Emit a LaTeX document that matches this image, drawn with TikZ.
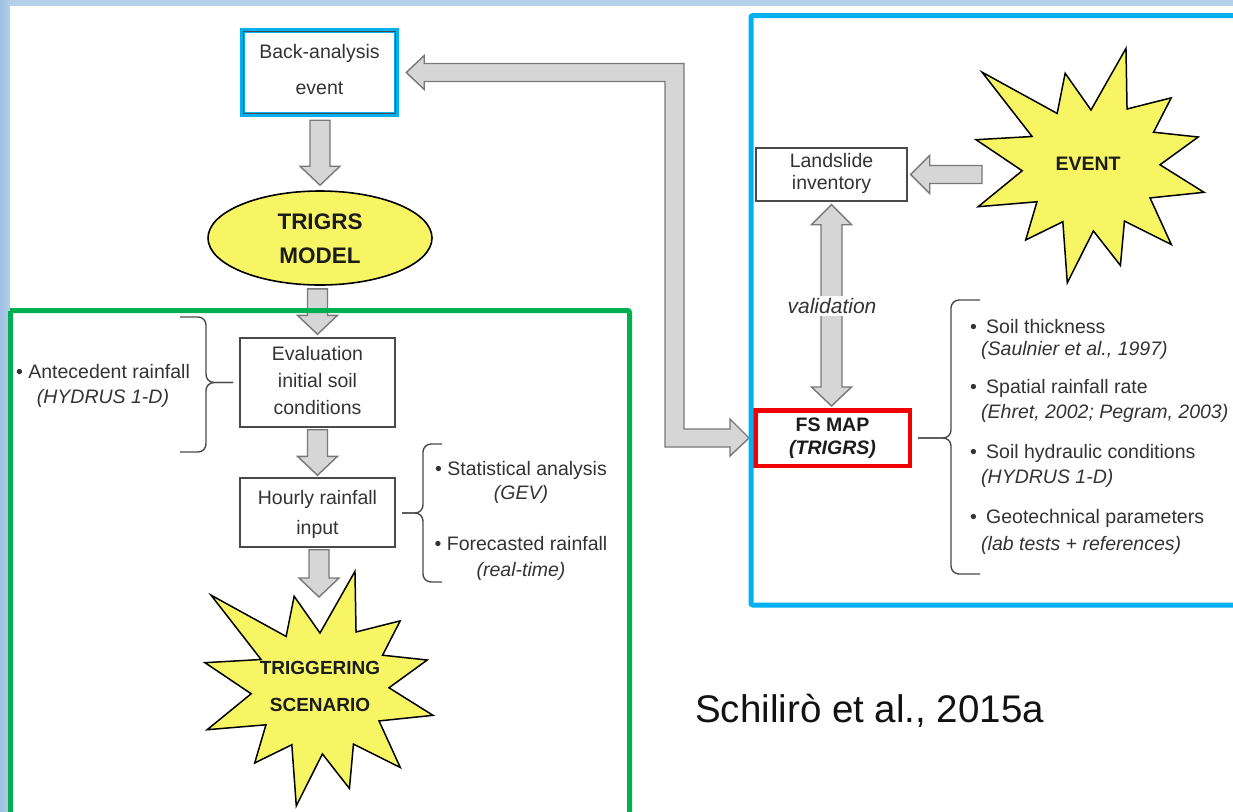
\documentclass[tikz,border=0pt]{standalone}
\usepackage{fontspec}
\setmainfont{Liberation Sans}
\usetikzlibrary{shapes.geometric,calc}
\definecolor{cblue}{HTML}{00B0F0}
\definecolor{cgreen}{HTML}{00B050}
\definecolor{cred}{HTML}{F00000}
\definecolor{cyellow}{RGB}{248,245,100}
\definecolor{arrf}{HTML}{D6D6D6}
\definecolor{arrc}{HTML}{787878}
\definecolor{boxc}{HTML}{4A4A4A}
\definecolor{txtc}{HTML}{333333}
\definecolor{bldc}{HTML}{1C1C1C}
\definecolor{bgtop}{HTML}{B5D0EB}
\definecolor{bgleft}{HTML}{9FBFE4}
\newcommand{\vdownarrow}[2]{%
 \draw[blk] let \p1=(#1), \p2=(#2) in
 (\x2-10pt,\y1) -- (\x2+10pt,\y1) -- (\x2+10pt,\y2+19pt) -- (\x2+20pt,\y2+19pt) -- (\x2,\y2)
 -- (\x2-20pt,\y2+19pt) -- (\x2-10pt,\y2+19pt) -- cycle;}
\newcommand{\hleftarrow}[2]{%
 \draw[blk] let \p1=(#1), \p2=(#2) in
 (\x1,\y2+9pt) -- (\x2+19pt,\y2+9pt) -- (\x2+19pt,\y2+19pt) -- (\x2,\y2)
 -- (\x2+19pt,\y2-19pt) -- (\x2+19pt,\y2-9pt) -- (\x1,\y2-9pt) -- cycle;}
\newcommand{\burstshape}[1]{%
 \filldraw[burst] ($(#1)+(167:117pt)$)
 \foreach \ang/\rad in {153/65,139/143,122/62,105/96,89/56,73/123,57/68,40/106,28/72,15/112,1/70,-13/117,-28/68,-44/113,-58/65,-73/104,-87/65,-101/119,-116/62,-131/98,-146/64,-160/119,-176/68}
 { -- ($(#1)+(\ang:\rad pt)$) } -- cycle;}
\tikzset{
 txt/.style={text=txtc, inner sep=0pt, align=center, font=\fontsize{19.5}{24}\selectfont},
 bld/.style={text=bldc, inner sep=0pt, align=center},
 box/.style={draw=boxc, line width=1.4pt, fill=white, inner sep=0pt},
 blk/.style={draw=arrc, fill=arrf, line width=1.4pt, line join=miter},
 burst/.style={draw=black, fill=cyellow, line width=1.5pt, line join=miter},
 brc/.style={draw=boxc, line width=1.4pt, rounded corners=8pt},
 frame/.style={line width=5pt, rounded corners=2pt},
 item/.style={txt, anchor=west, align=left},
}
\newcommand{\bul}{\makebox[16pt][l]{\textbullet}}
\begin{document}
\begin{tikzpicture}[x=1pt,y=-1pt]
\useasboundingbox (0,0) rectangle (1233,811);
% background
\fill[bgtop] (0,0) rectangle (1233,811);
\shade[left color=bgleft, right color=bgtop] (0,0) rectangle (10,811);
\fill[white] (10,6) rectangle (1233,811);

% ---------- left column ----------
\node[box, draw=cblue, line width=5.5pt, minimum width=154pt, minimum height=84pt] (back) at (319.5,72.5) {};
\draw[boxc, line width=1pt] ($(back.south west)+(3.3,-3.3)$) rectangle ($(back.north east)+(-3.3,3.3)$);
\node[txt, font=\fontsize{19.5}{36}\selectfont] (backtxt) at (319.5,70) {Back-analysis\\event};

\node[ellipse, draw=black, fill=cyellow, line width=1.6pt, minimum width=224pt, minimum height=94pt, inner sep=0pt] (trigrs) at (320,238) {};
\node[bld, font=\bfseries\fontsize{22.5}{34}\selectfont] (trigrstxt) at (320,239) {TRIGRS\\MODEL};

\node[box, minimum width=155pt, minimum height=89pt] (eval) at (317.5,382.5) {};
\node[txt, font=\fontsize{19.5}{27}\selectfont] (evaltxt) at (317.5,381) {Evaluation\\initial soil\\conditions};

\node[box, minimum width=155pt, minimum height=69pt] (hourly) at (317.5,512.5) {};
\node[txt, font=\fontsize{19.5}{30}\selectfont] (hourlytxt) at (317.5,514) {Hourly rainfall\\input};

\coordinate (trigc) at (319,689);
\burstshape{trigc}
\node[bld, font=\bfseries\fontsize{19}{37}\selectfont] (trig) at (320,686.5) {TRIGGERING\\SCENARIO};

\vdownarrow{$(back.south)+(0,3)$}{$(trigrs.north)+(0,-5)$}
\vdownarrow{$(trigrs.south)+(0,3)$}{$(eval.north)+(0,-3)$}
\vdownarrow{$(eval.south)+(0,2)$}{$(hourly.north)+(0,-2)$}
\vdownarrow{$(hourly.south)+(0,2)$}{$(trigc)+(0,-92)$}

% braces left
\draw[brc] (180,317) -- (206,317) -- (206,382.5) -- (233,382.5);
\draw[brc] (180,452) -- (206,452) -- (206,382.5) -- (233,382.5);
\node[txt, font=\fontsize{19.5}{25}\selectfont] (ante) at (103,385.5) {\textbullet{} Antecedent rainfall\\\textit{(HYDRUS 1-D)}};

\draw[brc] (442,444) -- (423,444) -- (423,513) -- (402,513);
\draw[brc] (442,582) -- (423,582) -- (423,513) -- (402,513);
\node[txt, font=\fontsize{19.5}{24}\selectfont] (stat) at (521,482) {\textbullet{} Statistical analysis\\\textit{(GEV)}};
\node[txt, font=\fontsize{19.5}{26}\selectfont] (fore) at (521,558) {\textbullet{} Forecasted rainfall\\\textit{(real-time)}};

% ---------- right panel ----------
\node[box, minimum width=151pt, minimum height=53pt] (land) at (831.5,174.5) {};
\node[txt, font=\fontsize{19.5}{22}\selectfont] (landtxt) at (831.5,173.5) {Landslide\\inventory};

\coordinate (evc) at (1090,166);
\burstshape{evc}
\node[bld, font=\bfseries\fontsize{19.5}{24}\selectfont] (event) at (1088,164) {EVENT};
\coordinate (evleft) at (982,174.5);
\hleftarrow{evleft}{$(land.east)+(3,0)$}

\node[box, draw=cred, line width=4.5pt, minimum width=154.5pt, minimum height=55.5pt] (fsmap) at (832.5,438) {};
\node[bld, font=\bfseries\fontsize{19.5}{23}\selectfont] (fstxt) at (832.5,438) {FS MAP\\\textit{(TRIGRS)}};

\draw[blk] let \p1=($(land.south)+(0,3)$), \p2=($(fsmap.north)+(0,-2)$) in
 (\x1,\y1) -- (\x1+20pt,\y1-20pt) -- (\x1+10.5pt,\y1-20pt) -- (\x1+10.5pt,\y2+19pt) -- (\x1+20pt,\y2+19pt) -- (\x1,\y2)
 -- (\x1-20pt,\y2+19pt) -- (\x1-10.5pt,\y2+19pt) -- (\x1-10.5pt,\y1-20pt) -- (\x1-20pt,\y1-20pt) -- cycle;
\node[txt, fill=white, inner sep=2pt, font=\itshape\fontsize{21}{24}\selectfont] (valid) at (832,306) {validation};

\draw[brc] (980,300) -- (951,300) -- (951,438) -- (918,438);
\draw[brc] (980,574) -- (951,574) -- (951,438) -- (918,438);
\node[item] (s1) at (970,327) {\bul Soil thickness};
\node[item] (s1b) at (981,350) {\textit{(Saulnier et al., 1997)}};
\node[item] (s2) at (970,388) {\bul Spatial rainfall rate};
\node[item] (s2b) at (981,413) {\textit{(Ehret, 2002; Pegram, 2003)}};
\node[item] (s3) at (970,453) {\bul Soil hydraulic conditions};
\node[item] (s3b) at (981,478) {\textit{(HYDRUS 1-D)}};
\node[item] (s4) at (970,518) {\bul Geotechnical parameters};
\node[item] (s4b) at (981,545) {\textit{(lab tests + references)}};

% big L-shaped double arrow
\coordinate (turn) at (674.5,0);
\draw[blk] let \p1=($(back.east)+(7,0)$), \p2=($(fsmap.west)+(-4,0)$), \p3=(turn) in
 (\x1,\y1) -- (\x1+18pt,\y1+17pt) -- (\x1+18pt,\y1+9pt) -- (\x3+9.5pt,\y1+9pt) -- (\x3+9.5pt,\y2+9pt)
 -- (\x2-19pt,\y2+9pt) -- (\x2-19pt,\y2+19pt) -- (\x2,\y2) -- (\x2-19pt,\y2-18pt) -- (\x2-19pt,\y2-9pt)
 -- (\x3-9.5pt,\y2-9pt) -- (\x3-9.5pt,\y1-9pt) -- (\x1+18pt,\y1-9pt) -- (\x1+18pt,\y1-17pt) -- cycle;

% frames
\draw[frame, cgreen] (10,310.5) -- (629.5,310.5) -- (629.5,830);
\draw[frame, cgreen] (10,310.5) -- (10,830);
\draw[frame, cblue] (1250,15.5) -- (751,15.5) -- (751,605) -- (1250,605);

\node[anchor=base west, inner sep=0pt, text=black!93, font=\fontsize{38.5}{40}\selectfont] (cite) at (695,722) {Schilirò et al., 2015a};
\end{tikzpicture}
\end{document}
